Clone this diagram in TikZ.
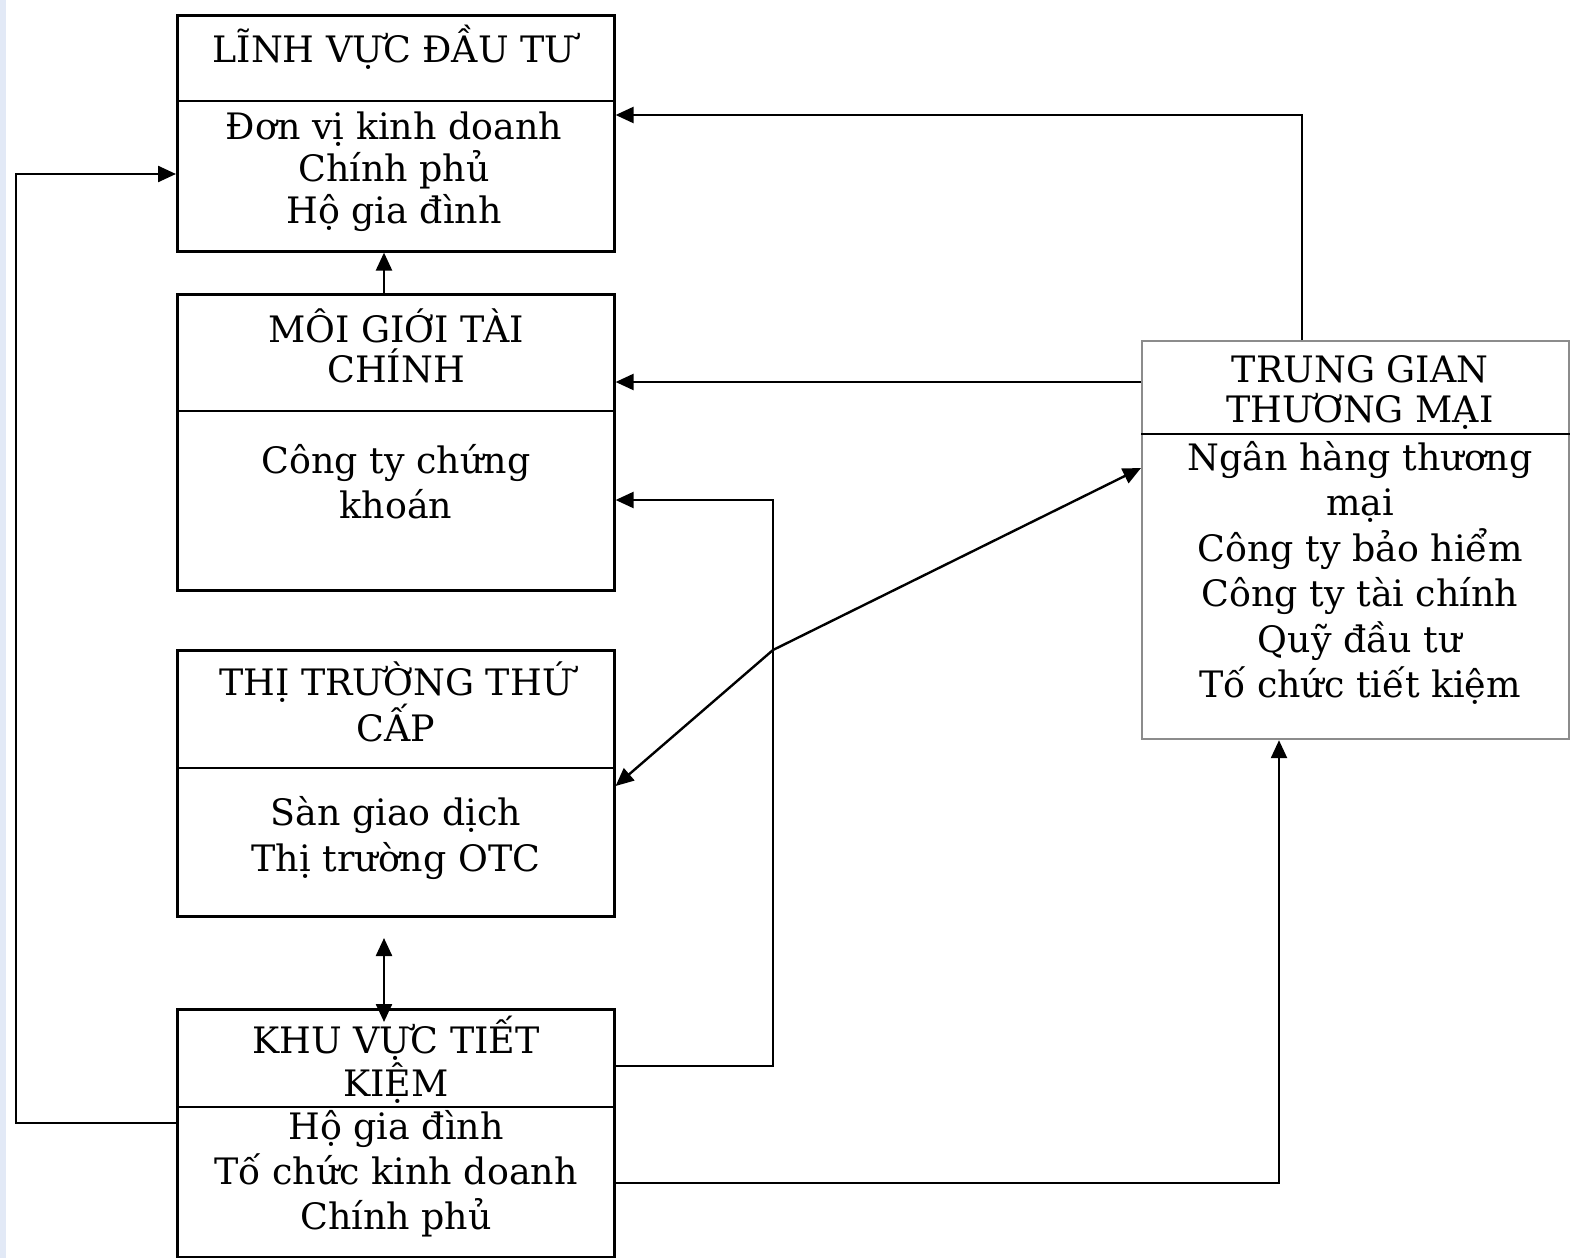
\documentclass[tikz,border=0pt]{standalone}
\usepackage{fontspec}
\setmainfont{DejaVu Serif}
\usetikzlibrary{arrows.meta}
\definecolor{strip}{RGB}{226,233,246}
\definecolor{boxgray}{RGB}{140,140,140}
\begin{document}
\begin{tikzpicture}[x=0.5pt,y=-0.5pt,
  box/.style={draw=black, line width=1.3pt, anchor=north west, inner sep=0pt, minimum width=218.5pt},
  graybox/.style={draw=boxgray, line width=1.1pt, anchor=north west, inner sep=0pt},
  divider/.style={draw=black, line width=1.3pt},
  txt/.style={align=center, inner sep=0pt, font=\fontsize{18.2}{22}\selectfont},
  arr/.style={draw=black, line width=1.2pt, -{Triangle[length=9pt,width=8pt]}},
  arrboth/.style={draw=black, line width=1.2pt, {Triangle[length=9pt,width=8pt]}-{Triangle[length=9pt,width=8pt]}}
]
\useasboundingbox (0,0) rectangle (1570,1258);
\fill[strip] (0,0) rectangle (6,1258);

% boxes
\node[box, minimum height=118pt] (b1) at (176,14) {};
\node[box, minimum height=148pt] (b2) at (176,293) {};
\node[box, minimum height=133pt] (b3) at (176,649) {};
\node[box, minimum height=124pt] (b4) at (176,1008) {};
\node[graybox, minimum width=213.5pt, minimum height=199pt] (b5) at (1141,340) {};

% dividers
\draw[divider] (b1.west |- 0,101) -- (b1.east |- 0,101);
\draw[divider] (b2.west |- 0,411) -- (b2.east |- 0,411);
\draw[divider] (b3.west |- 0,768) -- (b3.east |- 0,768);
\draw[divider] (b4.west |- 0,1107) -- (b4.east |- 0,1107);
\draw[divider] (b5.west |- 0,434) -- (b5.east |- 0,434);

% texts
\node[txt] (t1h) at (394,47) {LĨNH VỰC ĐẦU TƯ};
\node[txt, font=\fontsize{18.2}{21}\selectfont] (t1b) at (394,172) {Đơn vị kinh doanh\\Chính phủ\\Hộ gia đình};
\node[txt, font=\fontsize{18.2}{20}\selectfont] (t2h) at (396,346) {MÔI GIỚI TÀI\\CHÍNH};
\node[txt, font=\fontsize{18.2}{22.5}\selectfont] (t2b) at (396,482) {Công ty chứng\\khoán};
\node[txt, font=\fontsize{18.2}{19.5}\selectfont] (t3h) at (396,702) {THỊ TRƯỜNG THỨ\\CẤP};
\node[txt, font=\fontsize{18.2}{23}\selectfont] (t3b) at (396,838) {Sàn giao dịch\\Thị trường OTC};
\node[txt, font=\fontsize{18.2}{20}\selectfont] (t4h) at (396,1060) {KHU VỰC TIẾT\\KIỆM};
\node[txt, font=\fontsize{18.2}{22.5}\selectfont] (t4b) at (396,1174) {Hộ gia đình\\Tố chức kinh doanh\\Chính phủ};
\node[txt, font=\fontsize{18.2}{20}\selectfont] (t5h) at (1360,392) {TRUNG GIAN\\THƯƠNG MẠI};
\node[txt, font=\fontsize{18.2}{22.7}\selectfont] (t5b) at (1360,573) {Ngân hàng thương\\mại\\Công ty bảo hiểm\\Công ty tài chính\\Quỹ đầu tư\\Tố chức tiết kiệm};

% connectors
\coordinate (c1) at (384,938);
\coordinate (c2) at (384,1022);
\draw[arr] (b2.north -| 384,0) -- (b1.south -| 384,0);
\draw[arr] (b4.west |- 0,1123) -- (16,1123) -- (16,174) -- (b1.west |- 0,174);
\draw[arr] (b5.north -| 1302,0) -- (1302,115) -- (b1.east |- 0,115);
\draw[arr] (b5.west |- 0,382) -- (b2.east |- 0,382);
\draw[arr] (b4.east |- 0,1066) -- (773,1066) -- (773,500) -- (b2.east |- 0,500);
\draw[arrboth] (b3.east |- 0,786) -- (773,650) -- (b5.west |- 0,468);
\draw[arrboth] (c1) -- (c2);
\draw[arr] (b4.east |- 0,1183) -- (1279,1183) -- (b5.south -| 1279,0);
\end{tikzpicture}
\end{document}
